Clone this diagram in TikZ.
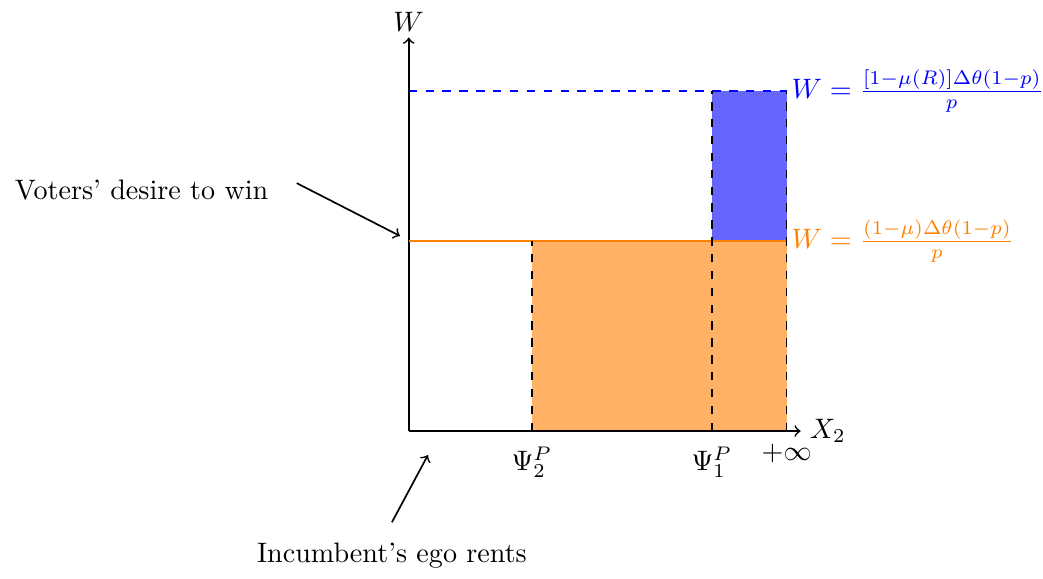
\documentclass[tikz,border=0pt]{standalone}
\usetikzlibrary{positioning}
\tikzset{
  axis/.style={->,semithick,draw=black},
  guide/.style={dashed,semithick,draw=black},
  pointer/.style={->,semithick},
  caption/.style={font=\normalsize,inner sep=1pt},
  level/.style={right=0pt,inner sep=1.5pt},
}

\begin{document}
\begin{tikzpicture}
    \useasboundingbox (-5.11,-1.84) rectangle (7.93,5.39);
    % levels and thresholds
    \coordinate (O) at (0,0);
    \coordinate (psitwo) at (1.54,0);
    \coordinate (psione) at (3.79,0);
    \coordinate (inf) at (4.725,0);
    \coordinate (lowW) at (0,2.375);
    \coordinate (highW) at (0,4.25);
    % shaded areas
    \fill[orange!60] (psitwo) rectangle (4.725,2.375);
    \fill[blue!60] (3.79,2.375) rectangle (4.725,4.25);
    % axes
    \draw[axis] (O) -- (4.9,0) node[right,inner sep=3pt] (xlab) {$X_2$};
    \draw[axis] (O) -- (0,4.92) node[above,inner sep=2pt] (ylab) {$W$};
    % thresholds
    \draw[orange,semithick] (lowW) -- (4.725,2.375)
      node[level] (lowlab) {$W=\frac{(1-\mu)\Delta\theta(1-p)}{p}$};
    \draw[blue,dashed,semithick] (highW) -- (4.725,4.25)
      node[level] (highlab) {$W=\frac{[1-\mu(R)]\Delta\theta(1-p)}{p}$};
    \draw[guide] (psitwo) -- (1.54,2.375);
    \draw[guide] (psione) -- (3.79,4.25);
    \draw[guide] (inf) -- (4.725,4.25);
    \node[below=2pt of psitwo] (psitwolab) {$\Psi_2^P$};
    \node[below=2pt of psione] (psionelab) {$\Psi_1^P$};
    \node[below=1pt of inf] (inflab) {$+\infty$};
    % annotations
    \node[caption] (desire) at (-3.34,3.01) {Voters' desire to win};
    \coordinate (desiretail) at (-1.4,3.1);
    \coordinate (desiretip) at (-0.11,2.44);
    \draw[pointer] (desiretail) -- (desiretip);
    \node[caption] (ego) at (-0.21,-1.56) {Incumbent's ego rents};
    \coordinate (egotail) at (-0.21,-1.14);
    \coordinate (egotip) at (0.24,-0.3);
    \draw[pointer] (egotail) -- (egotip);
\end{tikzpicture}
\end{document}
